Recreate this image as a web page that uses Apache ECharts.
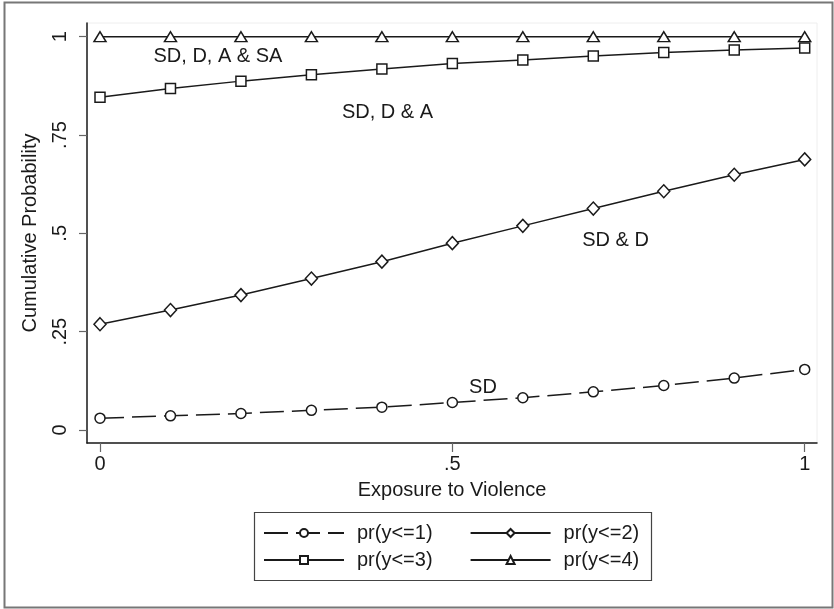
<!DOCTYPE html>
<html>
<head>
<meta charset="utf-8">
<script src="https://cdn.jsdelivr.net/npm/echarts@6/dist/echarts.min.js"></script>
<style>
  html, body { margin: 0; padding: 0; background: #fff; }
  #chart { width: 834px; height: 609px; }
</style>
</head>
<body>
<div id="chart"></div>
<script>
// ---- data ----
const xValues = [0, 0.1, 0.2, 0.3, 0.4, 0.5, 0.6, 0.7, 0.8, 0.9, 1.0];
const pr1 = [0.030, 0.036, 0.042, 0.050, 0.058, 0.070, 0.082, 0.097, 0.113, 0.132, 0.154];
const pr2 = [0.269, 0.305, 0.343, 0.385, 0.428, 0.475, 0.519, 0.563, 0.607, 0.649, 0.688];
const pr3 = [0.846, 0.868, 0.887, 0.903, 0.918, 0.932, 0.941, 0.951, 0.960, 0.966, 0.971];
const pr4 = [1, 1, 1, 1, 1, 1, 1, 1, 1, 1, 1];
const seriesNames = ['pr(y<=1)', 'pr(y<=2)', 'pr(y<=3)', 'pr(y<=4)'];
const xTickValues = [0, 0.5, 1];
const xTickLabels = ['0', '.5', '1'];
const yTickValues = [0, 0.25, 0.5, 0.75, 1];
const yTickLabels = ['0', '.25', '.5', '.75', '1'];
const annotationText = ['SD, D, A & SA', 'SD, D & A', 'SD & D', 'SD'];
const annotationX = [0.1674, 0.408, 0.7315, 0.5435];
const annotationY = [0.949, 0.807, 0.481, 0.109];
const xAxisTitle = 'Exposure to Violence';
const yAxisTitle = 'Cumulative Probability';

// ---- chart ----
const FONT = 'Liberation Sans, Arial, sans-serif';
const INK = '#1a1a1a';
const pairs = arr => xValues.map((x, i) => [x, arr[i]]);
const lblMap = (vals, labels) => v => {
  const i = vals.findIndex(t => Math.abs(t - v) < 1e-9);
  return i >= 0 ? labels[i] : '';
};

function lineSeries(name, arr, symbol, size, dashed) {
  return {
    name: name,
    type: 'line',
    data: pairs(arr),
    symbol: symbol,
    symbolSize: size,
    showSymbol: true,
    lineStyle: { color: INK, width: 1.5, type: dashed ? [24, 8] : 'solid' },
    itemStyle: { color: '#fff', borderColor: INK, borderWidth: 1.5 },
    emphasis: { disabled: true },
    animation: false,
    z: 3
  };
}

const chart = echarts.init(document.getElementById('chart'), null, { renderer: 'canvas' });
chart.setOption({
  backgroundColor: '#fff',
  animation: false,
  textStyle: { fontFamily: FONT },
  grid: {
    left: 87, top: 23, right: 17, bottom: 166,
    show: true, borderColor: '#eeeeee', borderWidth: 1, backgroundColor: '#fff'
  },
  xAxis: {
    type: 'value',
    min: -0.01845, max: 1.01745,
    name: xAxisTitle,
    nameLocation: 'middle',
    nameGap: 37,
    nameTextStyle: { fontSize: 20, color: INK, fontFamily: FONT },
    axisLine: { show: true, onZero: false, lineStyle: { color: INK, width: 1.5 } },
    axisTick: { show: true, length: 9, customValues: xTickValues, lineStyle: { color: '#666', width: 1.2 } },
    axisLabel: { customValues: xTickValues, formatter: lblMap(xTickValues, xTickLabels), fontSize: 20, color: INK, margin: 11, fontFamily: FONT },
    splitLine: { show: false }
  },
  yAxis: {
    type: 'value',
    min: -0.0331, max: 1.0348,
    name: yAxisTitle,
    nameLocation: 'middle',
    nameGap: 47,
    nameRotate: 90,
    nameTextStyle: { fontSize: 20, color: INK, fontFamily: FONT },
    axisLine: { show: true, onZero: false, lineStyle: { color: INK, width: 1.5 } },
    axisTick: { show: true, length: 8, customValues: yTickValues, lineStyle: { color: '#666', width: 1.2 } },
    axisLabel: { customValues: yTickValues, formatter: lblMap(yTickValues, yTickLabels), rotate: 90, fontSize: 20, color: INK, margin: 17, fontFamily: FONT },
    splitLine: { show: false }
  },
  legend: [
    {
      data: [seriesNames[0], seriesNames[1]],
      left: 263, top: 523, padding: 0,
      itemWidth: 80, itemHeight: 10, itemGap: 37,
      selectedMode: false,
      textStyle: { fontSize: 20, color: INK, fontFamily: FONT, padding: [0, 0, 0, 8] }
    },
    {
      data: [seriesNames[2], seriesNames[3]],
      left: 263, top: 550, padding: 0,
      itemWidth: 80, itemHeight: 10, itemGap: 37,
      selectedMode: false,
      textStyle: { fontSize: 20, color: INK, fontFamily: FONT, padding: [0, 0, 0, 8] }
    }
  ],
  graphic: [
    { type: 'rect', shape: { x: 4.5, y: 2.5, width: 828, height: 605 }, style: { fill: 'none', stroke: '#777', lineWidth: 2 }, silent: true, z: 10 },
    { type: 'rect', shape: { x: 254.5, y: 512.5, width: 397, height: 68 }, style: { fill: 'none', stroke: '#444', lineWidth: 1.2 }, silent: true, z: 10 }
  ],
  series: [
    lineSeries(seriesNames[0], pr1, 'circle', 10, true),
    lineSeries(seriesNames[1], pr2, 'diamond', [12, 13], false),
    lineSeries(seriesNames[2], pr3, 'rect', 10, false),
    lineSeries(seriesNames[3], pr4, 'triangle', [12, 10], false),
    {
      name: 'annotations',
      type: 'scatter',
      data: annotationX.map((x, i) => [x, annotationY[i], annotationText[i]]),
      symbolSize: 1,
      itemStyle: { color: '#fff', opacity: 1 },
      label: {
        show: true, position: 'inside', formatter: p => p.data[2],
        fontSize: 20, color: INK, fontFamily: FONT,
        textBorderWidth: 0, textBorderColor: 'transparent', opacity: 1
      },
      emphasis: { disabled: true },
      silent: true,
      z: 4
    }
  ]
});
</script>
</body>
</html>
